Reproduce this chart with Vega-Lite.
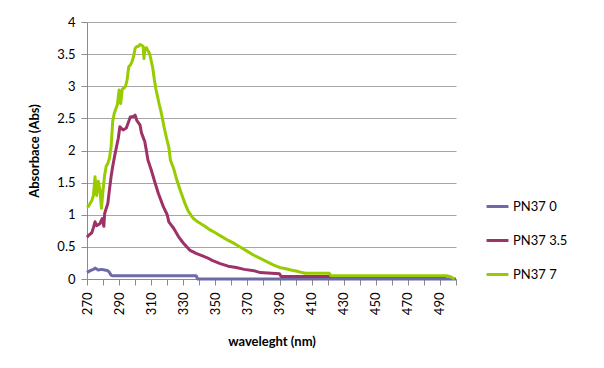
{
  "$schema": "https://vega.github.io/schema/vega-lite/v6.json",
  "width": 369,
  "height": 257,
  "autosize": {"type": "none"},
  "padding": {"left": 87, "top": 22, "right": 148, "bottom": 89},
  "background": "white",
  "config": {"font": "Lato", "view": {"stroke": null}},
  "data": {
    "values": [
      {"series": "PN37 0", "nm": 270, "abs": 0.10},
      {"series": "PN37 0", "nm": 272, "abs": 0.13},
      {"series": "PN37 0", "nm": 274, "abs": 0.15},
      {"series": "PN37 0", "nm": 275, "abs": 0.17},
      {"series": "PN37 0", "nm": 277, "abs": 0.14},
      {"series": "PN37 0", "nm": 279, "abs": 0.15},
      {"series": "PN37 0", "nm": 281, "abs": 0.14},
      {"series": "PN37 0", "nm": 283, "abs": 0.13},
      {"series": "PN37 0", "nm": 284, "abs": 0.10},
      {"series": "PN37 0", "nm": 285, "abs": 0.06},
      {"series": "PN37 0", "nm": 286, "abs": 0.05},
      {"series": "PN37 0", "nm": 338, "abs": 0.05},
      {"series": "PN37 0", "nm": 339, "abs": 0.0},
      {"series": "PN37 0", "nm": 500, "abs": 0.0},

      {"series": "PN37 3.5", "nm": 270, "abs": 0.65},
      {"series": "PN37 3.5", "nm": 271, "abs": 0.68},
      {"series": "PN37 3.5", "nm": 273, "abs": 0.72},
      {"series": "PN37 3.5", "nm": 274, "abs": 0.80},
      {"series": "PN37 3.5", "nm": 275, "abs": 0.89},
      {"series": "PN37 3.5", "nm": 276, "abs": 0.83},
      {"series": "PN37 3.5", "nm": 278, "abs": 0.86},
      {"series": "PN37 3.5", "nm": 279.5, "abs": 0.94},
      {"series": "PN37 3.5", "nm": 280.5, "abs": 0.82},
      {"series": "PN37 3.5", "nm": 281, "abs": 1.02},
      {"series": "PN37 3.5", "nm": 283, "abs": 1.18},
      {"series": "PN37 3.5", "nm": 284, "abs": 1.39},
      {"series": "PN37 3.5", "nm": 285, "abs": 1.59},
      {"series": "PN37 3.5", "nm": 286, "abs": 1.75},
      {"series": "PN37 3.5", "nm": 287.5, "abs": 1.95},
      {"series": "PN37 3.5", "nm": 289.5, "abs": 2.19},
      {"series": "PN37 3.5", "nm": 290.5, "abs": 2.37},
      {"series": "PN37 3.5", "nm": 292.5, "abs": 2.32},
      {"series": "PN37 3.5", "nm": 294.5, "abs": 2.35},
      {"series": "PN37 3.5", "nm": 296, "abs": 2.45},
      {"series": "PN37 3.5", "nm": 297, "abs": 2.52},
      {"series": "PN37 3.5", "nm": 299, "abs": 2.53},
      {"series": "PN37 3.5", "nm": 300, "abs": 2.55},
      {"series": "PN37 3.5", "nm": 301, "abs": 2.47},
      {"series": "PN37 3.5", "nm": 303, "abs": 2.40},
      {"series": "PN37 3.5", "nm": 304, "abs": 2.27},
      {"series": "PN37 3.5", "nm": 306, "abs": 2.14},
      {"series": "PN37 3.5", "nm": 307, "abs": 2.00},
      {"series": "PN37 3.5", "nm": 308, "abs": 1.85},
      {"series": "PN37 3.5", "nm": 310, "abs": 1.70},
      {"series": "PN37 3.5", "nm": 312.5, "abs": 1.49},
      {"series": "PN37 3.5", "nm": 314.5, "abs": 1.33},
      {"series": "PN37 3.5", "nm": 317.5, "abs": 1.13},
      {"series": "PN37 3.5", "nm": 320, "abs": 1.00},
      {"series": "PN37 3.5", "nm": 321, "abs": 0.89},
      {"series": "PN37 3.5", "nm": 324, "abs": 0.79},
      {"series": "PN37 3.5", "nm": 327, "abs": 0.66},
      {"series": "PN37 3.5", "nm": 330, "abs": 0.56},
      {"series": "PN37 3.5", "nm": 334, "abs": 0.45},
      {"series": "PN37 3.5", "nm": 338, "abs": 0.40},
      {"series": "PN37 3.5", "nm": 342, "abs": 0.36},
      {"series": "PN37 3.5", "nm": 345, "abs": 0.33},
      {"series": "PN37 3.5", "nm": 348, "abs": 0.29},
      {"series": "PN37 3.5", "nm": 353, "abs": 0.24},
      {"series": "PN37 3.5", "nm": 358, "abs": 0.20},
      {"series": "PN37 3.5", "nm": 363, "abs": 0.18},
      {"series": "PN37 3.5", "nm": 368, "abs": 0.15},
      {"series": "PN37 3.5", "nm": 374, "abs": 0.13},
      {"series": "PN37 3.5", "nm": 378, "abs": 0.10},
      {"series": "PN37 3.5", "nm": 385, "abs": 0.09},
      {"series": "PN37 3.5", "nm": 390, "abs": 0.08},
      {"series": "PN37 3.5", "nm": 391, "abs": 0.04},
      {"series": "PN37 3.5", "nm": 494, "abs": 0.04},

      {"series": "PN37 7", "nm": 270, "abs": 1.15},
      {"series": "PN37 7", "nm": 271, "abs": 1.13},
      {"series": "PN37 7", "nm": 272, "abs": 1.18},
      {"series": "PN37 7", "nm": 273, "abs": 1.22},
      {"series": "PN37 7", "nm": 274, "abs": 1.30},
      {"series": "PN37 7", "nm": 275, "abs": 1.59},
      {"series": "PN37 7", "nm": 276, "abs": 1.30},
      {"series": "PN37 7", "nm": 277, "abs": 1.52},
      {"series": "PN37 7", "nm": 278, "abs": 1.40},
      {"series": "PN37 7", "nm": 279, "abs": 1.10},
      {"series": "PN37 7", "nm": 280, "abs": 1.38},
      {"series": "PN37 7", "nm": 281, "abs": 1.62},
      {"series": "PN37 7", "nm": 282, "abs": 1.76},
      {"series": "PN37 7", "nm": 283, "abs": 1.80},
      {"series": "PN37 7", "nm": 284, "abs": 1.88},
      {"series": "PN37 7", "nm": 285, "abs": 2.05},
      {"series": "PN37 7", "nm": 286, "abs": 2.45},
      {"series": "PN37 7", "nm": 287, "abs": 2.58},
      {"series": "PN37 7", "nm": 288, "abs": 2.65},
      {"series": "PN37 7", "nm": 289, "abs": 2.72},
      {"series": "PN37 7", "nm": 290, "abs": 2.94},
      {"series": "PN37 7", "nm": 290.5, "abs": 2.90},
      {"series": "PN37 7", "nm": 291, "abs": 2.73},
      {"series": "PN37 7", "nm": 292, "abs": 2.96},
      {"series": "PN37 7", "nm": 293, "abs": 2.97},
      {"series": "PN37 7", "nm": 294, "abs": 3.00},
      {"series": "PN37 7", "nm": 295, "abs": 3.10},
      {"series": "PN37 7", "nm": 296, "abs": 3.30},
      {"series": "PN37 7", "nm": 297, "abs": 3.33},
      {"series": "PN37 7", "nm": 298, "abs": 3.38},
      {"series": "PN37 7", "nm": 299, "abs": 3.46},
      {"series": "PN37 7", "nm": 300, "abs": 3.59},
      {"series": "PN37 7", "nm": 301, "abs": 3.62},
      {"series": "PN37 7", "nm": 302, "abs": 3.62},
      {"series": "PN37 7", "nm": 303, "abs": 3.65},
      {"series": "PN37 7", "nm": 304, "abs": 3.64},
      {"series": "PN37 7", "nm": 305, "abs": 3.62},
      {"series": "PN37 7", "nm": 305.5, "abs": 3.43},
      {"series": "PN37 7", "nm": 306, "abs": 3.58},
      {"series": "PN37 7", "nm": 307, "abs": 3.60},
      {"series": "PN37 7", "nm": 308, "abs": 3.55},
      {"series": "PN37 7", "nm": 309, "abs": 3.51},
      {"series": "PN37 7", "nm": 310, "abs": 3.40},
      {"series": "PN37 7", "nm": 311, "abs": 3.28},
      {"series": "PN37 7", "nm": 312, "abs": 3.10},
      {"series": "PN37 7", "nm": 313, "abs": 2.95},
      {"series": "PN37 7", "nm": 314, "abs": 2.84},
      {"series": "PN37 7", "nm": 315, "abs": 2.72},
      {"series": "PN37 7", "nm": 316, "abs": 2.62},
      {"series": "PN37 7", "nm": 317, "abs": 2.50},
      {"series": "PN37 7", "nm": 318, "abs": 2.37},
      {"series": "PN37 7", "nm": 319.5, "abs": 2.20},
      {"series": "PN37 7", "nm": 321, "abs": 2.05},
      {"series": "PN37 7", "nm": 322, "abs": 1.85},
      {"series": "PN37 7", "nm": 324, "abs": 1.72},
      {"series": "PN37 7", "nm": 326, "abs": 1.54},
      {"series": "PN37 7", "nm": 328, "abs": 1.39},
      {"series": "PN37 7", "nm": 331, "abs": 1.18},
      {"series": "PN37 7", "nm": 333, "abs": 1.06},
      {"series": "PN37 7", "nm": 336, "abs": 0.95},
      {"series": "PN37 7", "nm": 339, "abs": 0.89},
      {"series": "PN37 7", "nm": 343, "abs": 0.83},
      {"series": "PN37 7", "nm": 347, "abs": 0.76},
      {"series": "PN37 7", "nm": 350, "abs": 0.72},
      {"series": "PN37 7", "nm": 354, "abs": 0.66},
      {"series": "PN37 7", "nm": 358, "abs": 0.60},
      {"series": "PN37 7", "nm": 362, "abs": 0.55},
      {"series": "PN37 7", "nm": 366, "abs": 0.49},
      {"series": "PN37 7", "nm": 370, "abs": 0.43},
      {"series": "PN37 7", "nm": 374, "abs": 0.37},
      {"series": "PN37 7", "nm": 378, "abs": 0.32},
      {"series": "PN37 7", "nm": 382, "abs": 0.27},
      {"series": "PN37 7", "nm": 386, "abs": 0.22},
      {"series": "PN37 7", "nm": 390, "abs": 0.18},
      {"series": "PN37 7", "nm": 394, "abs": 0.16},
      {"series": "PN37 7", "nm": 397, "abs": 0.14},
      {"series": "PN37 7", "nm": 401, "abs": 0.12},
      {"series": "PN37 7", "nm": 404, "abs": 0.10},
      {"series": "PN37 7", "nm": 406, "abs": 0.09},
      {"series": "PN37 7", "nm": 421, "abs": 0.09},
      {"series": "PN37 7", "nm": 422, "abs": 0.05},
      {"series": "PN37 7", "nm": 494, "abs": 0.05},
      {"series": "PN37 7", "nm": 497, "abs": 0.03},
      {"series": "PN37 7", "nm": 499, "abs": 0.0}
    ]
  },
  "mark": {"type": "line", "strokeWidth": 3, "strokeJoin": "round"},
  "encoding": {
    "x": {
      "field": "nm",
      "type": "quantitative",
      "scale": {"domain": [270, 500], "nice": false, "zero": false},
      "axis": {
        "title": "waveleght (nm)",
        "values": [270, 280, 290, 300, 310, 320, 330, 340, 350, 360, 370, 380, 390, 400, 410, 420, 430, 440, 450, 460, 470, 480, 490, 500],
        "labelExpr": "(datum.value - 270) % 20 == 0 && datum.value < 500 ? datum.label : ''",
        "labelOverlap": false,
        "labelAngle": -90,
        "labelFontSize": 13,
        "labelColor": "#000000",
        "labelPadding": 7,
        "grid": false,
        "domainColor": "#8c8c8c",
        "tickColor": "#8c8c8c",
        "tickSize": 6,
        "titleFontSize": 13,
        "titleFontWeight": "bold",
        "titleColor": "#000000",
        "titlePadding": 21
      }
    },
    "y": {
      "field": "abs",
      "type": "quantitative",
      "scale": {"domain": [0, 4], "nice": false},
      "axis": {
        "title": "Absorbace (Abs)",
        "values": [0, 0.5, 1, 1.5, 2, 2.5, 3, 3.5, 4],
        "format": "~g",
        "labelFontSize": 13,
        "labelColor": "#000000",
        "labelPadding": 6,
        "grid": true,
        "gridColor": "#a6a6a6",
        "domainColor": "#8c8c8c",
        "tickColor": "#8c8c8c",
        "tickSize": 6,
        "titleFontSize": 13,
        "titleFontWeight": "bold",
        "titleColor": "#000000",
        "titlePadding": 15
      }
    },
    "color": {
      "field": "series",
      "type": "nominal",
      "scale": {"domain": ["PN37 0", "PN37 3.5", "PN37 7"], "range": ["#6e6aa8", "#9e3266", "#99cc00"]},
      "legend": {
        "title": null,
        "orient": "none",
        "legendX": 398,
        "legendY": 172,
        "symbolType": "stroke",
        "symbolSize": 480,
        "symbolStrokeWidth": 3,
        "labelFontSize": 13,
        "labelColor": "#000000",
        "labelOffset": 3,
        "rowPadding": 14
      }
    }
  }
}
